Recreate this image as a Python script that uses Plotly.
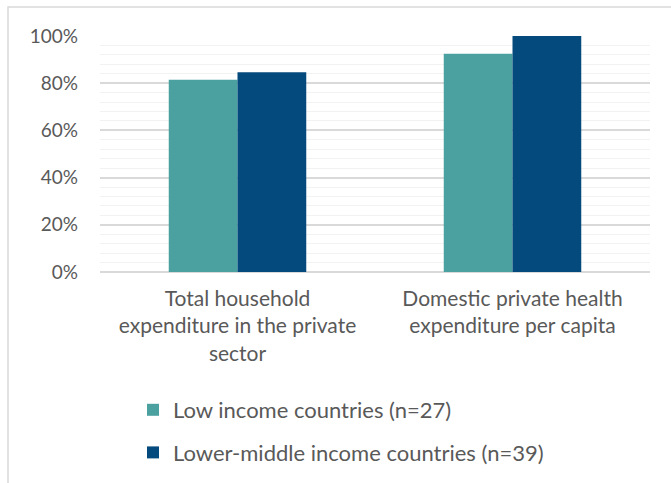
import plotly.graph_objects as go

categories = ["Total household<br>expenditure in the private<br>sector",
              "Domestic private health<br>expenditure per capita"]
low_income = [0.815, 0.925]
lower_middle = [0.846, 1.0]
series_names = ["Low income countries (n=27)", "Lower-middle income countries (n=39)"]
colors = ["#4BA0A0", "#054A7D"]

FONT = "Lato, 'Open Sans', sans-serif"
TXT = "#595959"

fig = go.Figure()
for name, vals, col, grp in [(series_names[0], low_income, colors[0], "a"),
                             (series_names[1], lower_middle, colors[1], "b")]:
    fig.add_trace(go.Bar(x=categories, y=vals, name=name, marker_color=col,
                         marker_line_width=0, legendgroup=grp))

W, H = 671, 483
L, R, T, B = 100, 21, 36, 211
pw, ph = W - L - R, H - T - B

fig.update_layout(
    width=W, height=H,
    margin=dict(l=L, r=R, t=T, b=B, pad=0, autoexpand=False),
    paper_bgcolor="white", plot_bgcolor="white",
    barmode="group", bargap=0.5, bargroupgap=0,
    font=dict(family=FONT, size=21, color=TXT),
    showlegend=True,
    legend=dict(orientation="v", x=(133 - L) / pw, y=(H - B - 389) / ph,
                xanchor="left", yanchor="top", traceorder="grouped",
                tracegroupgap=11, font=dict(size=22, color=TXT, family=FONT),
                itemwidth=30, bgcolor="rgba(0,0,0,0)"),
    xaxis=dict(showline=False, ticks="", tickfont=dict(size=21, color=TXT),
               ticklabelstandoff=12, automargin=False),
    yaxis=dict(range=[0, 1.0], tickvals=[0, 0.2, 0.4, 0.6, 0.8, 1.0],
               tickformat=".0%", ticks="", ticklabelstandoff=21, automargin=False,
               showgrid=True, gridcolor="#D9D9D9", gridwidth=1.5,
               zeroline=True, zerolinecolor="#D9D9D9", zerolinewidth=1.5,
               tickfont=dict(size=19, color=TXT),
               minor=dict(dtick=0.04, tick0=0, showgrid=True, gridcolor="#F2F2F2", gridwidth=1.2),
               layer="below traces"),
)

# chart frame border
fig.add_shape(type="rect", xref="paper", yref="paper",
              x0=(8 - L) / pw, x1=(W + 10 - L) / pw,
              y0=(H - B - (H + 10)) / ph, y1=(H - B - 7) / ph,
              line=dict(color="#D9D9D9", width=1.5), fillcolor="rgba(0,0,0,0)", layer="below")

fig.write_html("out.html")
